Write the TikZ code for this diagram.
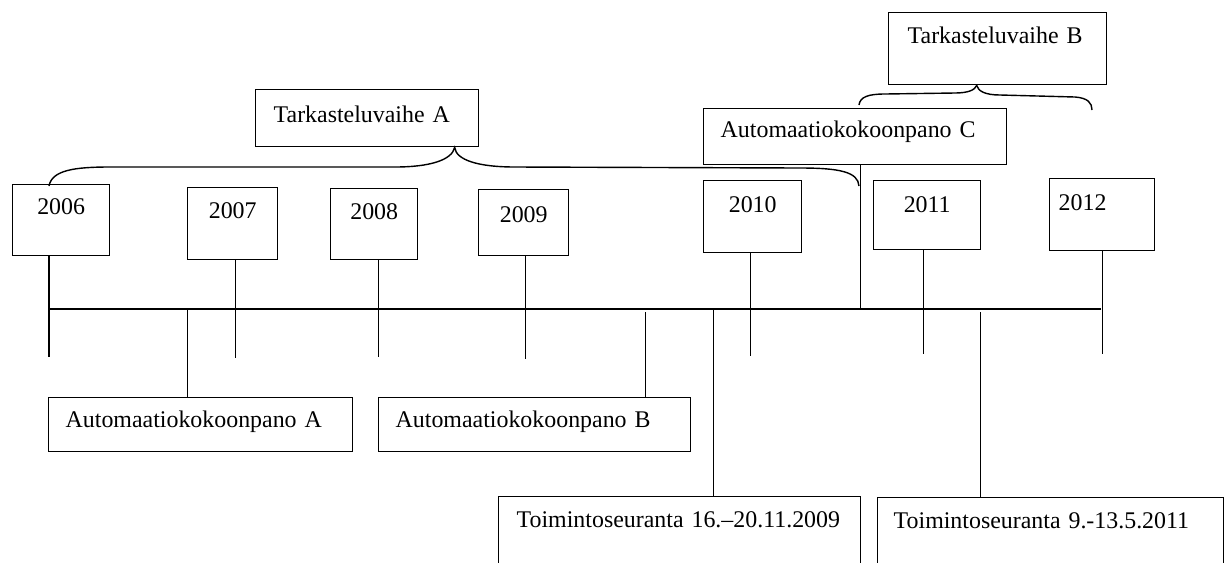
\documentclass[tikz,border=0pt]{standalone}
\usepackage{fontspec}
\setmainfont{Liberation Serif}
\begin{document}
\begin{tikzpicture}[x=0.02cm,y=-0.02cm, line width=0.8pt,
  yearbox/.style={draw, anchor=north west, inner sep=0pt, align=center, font=\fontsize{13.6}{15}\selectfont},
  textbox/.style={draw, anchor=north west, inner ysep=0pt, align=left, font=\fontsize{13.6}{15}\selectfont}]
\clip (0,0) rectangle (1226,562);
% years
\node[yearbox, text width=1.94cm, text height=0.60cm, text depth=0.82cm] (y2006) at (12,184) {2006};
\node[yearbox, text width=1.80cm, text height=0.62cm, text depth=0.82cm] (y2007) at (187,187) {2007};
\node[yearbox, text width=1.74cm, text height=0.62cm, text depth=0.80cm] (y2008) at (330,188) {2008};
\node[yearbox, text width=1.80cm, text height=0.66cm, text depth=0.66cm] (y2009) at (478,189) {2009};
\node[yearbox, text width=1.96cm, text height=0.64cm, text depth=0.80cm] (y2010) at (703,180) {2010};
\node[yearbox, text width=2.14cm, text height=0.64cm, text depth=0.74cm] (y2011) at (873,180) {2011};
\node[yearbox, inner xsep=0.18cm, align=left, text width=1.74cm, text height=0.64cm, text depth=0.80cm] (y2012) at (1049,178) {2012};
% phases and setups
\node[textbox, inner xsep=0.36cm, text width=3.74cm, text height=0.66cm, text depth=0.48cm] (tarkA) at (255,89) {Tarkasteluvaihe A};
\node[textbox, inner xsep=0.38cm, text width=3.60cm, text height=0.62cm, text depth=0.82cm] (tarkB) at (888,12) {Tarkasteluvaihe B};
\node[textbox, inner xsep=0.34cm, text width=5.38cm, text height=0.58cm, text depth=0.54cm] (autC) at (703,108) {Automaatiokokoonpano C};
\node[textbox, inner xsep=0.34cm, text width=5.40cm, text height=0.60cm, text depth=0.48cm] (autA) at (48,397) {Automaatiokokoonpano A};
\node[textbox, inner xsep=0.34cm, text width=5.56cm, text height=0.60cm, text depth=0.48cm] (autB) at (378,397) {Automaatiokokoonpano B};
\node[textbox, inner xsep=0.36cm, text width=6.52cm, text height=0.62cm, text depth=1.38cm] (toim09) at (498,496) {Toimintoseuranta 16.–20.11.2009};
\node[textbox, inner xsep=0.32cm, text width=6.28cm, text height=0.62cm, text depth=1.38cm] (toim11) at (877,497) {Toimintoseuranta 9.-13.5.2011};
% time axis
\coordinate (axisL) at (48,309);
\coordinate (axisR) at (1101,309);
\draw (axisL) -- (axisR);
\draw ([xshift=-0.24cm]y2006.south) -- ++(0,101);
\draw ([xshift=0.06cm]y2007.south) -- ++(0,98);
\draw ([xshift=0.09cm]y2008.south) -- ++(0,97);
\draw ([xshift=0.04cm]y2009.south) -- ++(0,103);
\draw ([xshift=-0.04cm]y2010.south) -- ++(0,103);
\draw ([xshift=-0.07cm]y2011.south) -- ++(0,104);
\draw (y2012.south) -- ++(0,103);
% drops to the boxes
\draw ([xshift=0.11cm]autC.south) -- ++(0,145);
\draw ([xshift=-0.26cm]autA.north) -- ++(0,-88);
\draw ([xshift=2.22cm]autB.north) -- ++(0,-85);
\draw ([xshift=0.68cm]toim09.north) -- ++(0,-187);
\draw ([xshift=-1.40cm]toim11.north) -- ++(0,-185);
% braces
\coordinate (tipA) at ([xshift=1.75cm]tarkA.south);
\coordinate (tipB) at ([xshift=-0.42cm]tarkB.south);
\draw (49,186) .. controls (52,170) and (75,167) .. (110,167) -- (395,167)
  .. controls (430,167) and (452,160) .. (tipA)
  .. controls (456,160) and (478,167) .. (515,167) -- (800,168)
  .. controls (840,168) and (858,172) .. (859,186);
\draw (859,105) .. controls (860,97) and (868,94) .. (885,94) -- (955,93)
  .. controls (968,93) and (975,90) .. (tipB)
  .. controls (978,91) and (985,95) .. (1000,95) -- (1075,97)
  .. controls (1088,98) and (1092,103) .. (1092,110);
\end{tikzpicture}
\end{document}
